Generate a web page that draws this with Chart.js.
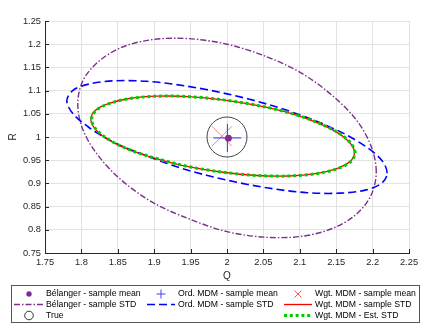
<!DOCTYPE html>
<html><head><meta charset="utf-8">
<script src="https://cdn.jsdelivr.net/npm/chart.js@4/dist/chart.umd.min.js"></script>
<style>html,body{margin:0;padding:0;background:#fff;overflow:hidden}</style>
</head><body>
<canvas id="c" width="439" height="329" style="display:block;width:439px;height:329px"></canvas>
<script>
// ---- data ----
const xTickVals = [1.75,1.8,1.85,1.9,1.95,2,2.05,2.1,2.15,2.2,2.25];
const xTickLabels = ['1.75','1.8','1.85','1.9','1.95','2','2.05','2.1','2.15','2.2','2.25'];
const yTickVals = [0.75,0.8,0.85,0.9,0.95,1,1.05,1.1,1.15,1.2,1.25];
const yTickLabels = ['0.75','0.8','0.85','0.9','0.95','1','1.05','1.1','1.15','1.2','1.25'];

const belangerMean = [2.002, 0.9975];
const ordMean = [2.0005, 0.998];
const wgtMean = [1.993, 1.0017];
const trueVal = [2.0, 1.0];

const belangerStdQ = [2.205,2.198,2.178,2.145,2.103,2.053,2.000,1.947,1.898,1.855,1.823,1.802,1.795,1.802,1.823,1.855,1.898,1.947,2.000,2.053,2.103,2.145,2.178,2.198];
const belangerStdR = [0.925,0.980,1.036,1.089,1.137,1.174,1.200,1.212,1.210,1.193,1.162,1.121,1.071,1.016,0.960,0.907,0.859,0.824,0.796,0.784,0.786,0.803,0.834,0.875];

const ordStdQ = [2.220,2.213,2.191,2.156,2.110,2.057,2.000,1.943,1.890,1.844,1.810,1.788,1.780,1.788,1.810,1.844,1.890,1.943,2.000,2.057,2.110,2.156,2.191,2.213];
const ordStdR = [0.922,0.949,0.979,1.011,1.042,1.070,1.093,1.110,1.120,1.121,1.114,1.100,1.078,1.051,1.021,0.989,0.959,0.930,0.907,0.890,0.880,0.879,0.886,0.901];

const wgtStdQ = [2.175,2.169,2.151,2.122,2.085,2.041,1.994,1.947,1.904,1.866,1.837,1.819,1.813,1.819,1.837,1.866,1.904,1.947,1.994,2.041,2.085,2.122,2.151,2.169];
const wgtStdR = [0.966,0.987,1.010,1.032,1.052,1.068,1.080,1.087,1.088,1.083,1.072,1.057,1.038,1.017,0.994,0.972,0.953,0.936,0.924,0.917,0.916,0.921,0.932,0.947];

const wgtEstQ = [2.176,2.170,2.152,2.123,2.086,2.042,1.995,1.948,1.905,1.867,1.838,1.820,1.814,1.820,1.838,1.867,1.905,1.948,1.995,2.042,2.086,2.123,2.152,2.170];
const wgtEstR = [0.966,0.987,1.010,1.032,1.052,1.068,1.080,1.087,1.088,1.083,1.072,1.057,1.038,1.017,0.994,0.972,0.953,0.936,0.924,0.917,0.916,0.921,0.932,0.947];

const legendLabels = ['Bélanger - sample mean','Bélanger - sample STD','True',
  'Ord. MDM - sample mean','Ord. MDM - sample STD',
  'Wgt. MDM - sample mean','Wgt. MDM - sample STD','Wgt. MDM - Est. STD'];

// ---- styles ----
const PURPLE = '#7E2F8E', BLUE = '#0000FF', RED = '#FF0000', GREEN = '#00CC00';
const FONT = "'Liberation Sans', Arial, Helvetica, sans-serif";
const TXT = '#262626';
const dashPurple = [6,2,1.5,2], dashBlue = [8,4], dashGreen = [3,2.8];

const pts = (qs, rs) => qs.map((q, i) => ({x: q, y: rs[i]}));
const pt = p => [{x: p[0], y: p[1]}];

const loopPlugin = {
  id: 'loopLines',
  beforeDatasetUpdate(chart, args) {
    const ds = chart.data.datasets[args.index];
    if (ds.closed && args.meta.dataset) {
      args.meta.dataset._loop = true;
      args.meta.dataset._fullLoop = true;
    }
  }
};

const decoPlugin = {
  id: 'deco',
  afterDraw(chart) {
    const ctx = chart.ctx, a = chart.chartArea, xs = chart.scales.x, ys = chart.scales.y;
    ctx.save();
    // inward ticks
    ctx.strokeStyle = TXT; ctx.lineWidth = 1; ctx.setLineDash([]);
    ctx.beginPath();
    xTickVals.forEach(v => { const p = Math.round(xs.getPixelForValue(v)) + 0.5; ctx.moveTo(p, a.bottom); ctx.lineTo(p, a.bottom - 4); });
    yTickVals.forEach(v => { const p = Math.round(ys.getPixelForValue(v)) + 0.5; ctx.moveTo(a.left, p); ctx.lineTo(a.left + 4, p); });
    ctx.stroke();

    // legend box
    ctx.strokeStyle = '#555'; ctx.lineWidth = 1;
    ctx.strokeRect(11.5, 285.5, 408, 37);
    const rows = [294, 304.5, 315.5];
    const cols = [{s0:14, s1:43, c:29, t:46}, {s0:147, s1:175, c:161, t:178}, {s0:284, s1:312, c:298, t:315}];
    const line = (col, row, color, w, dash) => {
      ctx.beginPath(); ctx.strokeStyle = color; ctx.lineWidth = w; ctx.setLineDash(dash);
      ctx.moveTo(col.s0, row); ctx.lineTo(col.s1, row); ctx.stroke(); ctx.setLineDash([]);
    };
    // markers
    ctx.fillStyle = PURPLE; ctx.beginPath(); ctx.arc(cols[0].c, rows[0], 2.7, 0, Math.PI*2); ctx.fill();
    ctx.strokeStyle = '#333'; ctx.lineWidth = 1; ctx.beginPath(); ctx.arc(cols[0].c, rows[2], 4.3, 0, Math.PI*2); ctx.stroke();
    ctx.strokeStyle = '#4040ff'; ctx.beginPath();
    ctx.moveTo(cols[1].c - 4.5, rows[0]); ctx.lineTo(cols[1].c + 4.5, rows[0]);
    ctx.moveTo(cols[1].c, rows[0] - 4.5); ctx.lineTo(cols[1].c, rows[0] + 4.5); ctx.stroke();
    ctx.strokeStyle = '#ff5050'; ctx.beginPath();
    ctx.moveTo(cols[2].c - 3.5, rows[0] - 3.5); ctx.lineTo(cols[2].c + 3.5, rows[0] + 3.5);
    ctx.moveTo(cols[2].c - 3.5, rows[0] + 3.5); ctx.lineTo(cols[2].c + 3.5, rows[0] - 3.5); ctx.stroke();
    line(cols[0], rows[1], PURPLE, 1.4, dashPurple);
    line(cols[1], rows[1], BLUE, 1.6, dashBlue);
    line(cols[2], rows[1], RED, 1.3, []);
    line(cols[2], rows[2], GREEN, 3, dashGreen);
    // texts
    ctx.fillStyle = '#000'; ctx.font = '8.7px ' + FONT; ctx.textBaseline = 'middle'; ctx.textAlign = 'left';
    const place = [[0,0],[0,1],[0,2],[1,0],[1,1],[2,0],[2,1],[2,2]];
    legendLabels.forEach((t, i) => { const [c, r] = place[i]; ctx.fillText(t, cols[c].t, rows[r]); });
    ctx.restore();
  }
};

new Chart(document.getElementById('c'), {
  type: 'line',
  data: {
    datasets: [
      {label: legendLabels[0], data: pt(belangerMean), showLine: false, pointStyle: 'circle', pointRadius: 3.4, backgroundColor: PURPLE, borderColor: PURPLE, pointBorderWidth: 0},
      {label: legendLabels[3], data: pt(ordMean), showLine: false, pointStyle: 'cross', pointRadius: 14, borderColor: '#3030ff', backgroundColor: 'transparent', pointBorderWidth: 1},
      {label: legendLabels[5], data: pt(wgtMean), showLine: false, pointStyle: 'crossRot', pointRadius: 14, borderColor: 'rgba(255,0,0,0.5)', backgroundColor: 'transparent', pointBorderWidth: 1},
      {label: legendLabels[2], data: pt(trueVal), showLine: false, pointStyle: 'circle', pointRadius: 20, borderColor: '#444', backgroundColor: 'transparent', pointBorderWidth: 1},
      {label: legendLabels[7], closed: true, data: pts(wgtEstQ, wgtEstR), borderColor: GREEN, borderWidth: 3, borderDash: dashGreen, pointRadius: 0, tension: 0.33, fill: false},
      {label: legendLabels[6], closed: true, data: pts(wgtStdQ, wgtStdR), borderColor: RED, borderWidth: 1.3, pointRadius: 0, tension: 0.33, fill: false},
      {label: legendLabels[4], closed: true, data: pts(ordStdQ, ordStdR), borderColor: BLUE, borderWidth: 1.6, borderDash: dashBlue, pointRadius: 0, tension: 0.33, fill: false},
      {label: legendLabels[1], closed: true, data: pts(belangerStdQ, belangerStdR), borderColor: PURPLE, borderWidth: 1.4, borderDash: dashPurple, pointRadius: 0, tension: 0.33, fill: false}
    ]
  },
  options: {
    responsive: false, animation: false, devicePixelRatio: 1,
    layout: {padding: {left: 0, right: 30, top: 10, bottom: 46}},
    plugins: {legend: {display: false}, tooltip: {enabled: false}},
    scales: {
      x: {
        type: 'linear', min: 1.75, max: 2.25,
        afterFit: s => { s.height = 30; },
        afterBuildTicks: s => { s.ticks = xTickVals.map(v => ({value: v})); },
        ticks: {autoSkip: false, maxRotation: 0, padding: 4, color: TXT, font: {family: FONT, size: 9.3}, callback: (v, i) => xTickLabels[i]},
        grid: {color: '#e2e2e2', drawTicks: false},
        border: {color: TXT, width: 1},
        title: {display: true, text: 'Q', color: TXT, font: {family: FONT, size: 10}, padding: {top: 0, bottom: 1}}
      },
      y: {
        type: 'linear', min: 0.75, max: 1.25,
        afterFit: s => { s.width = 45; },
        afterBuildTicks: s => { s.ticks = yTickVals.map(v => ({value: v})); },
        ticks: {autoSkip: false, padding: 4, color: TXT, font: {family: FONT, size: 9.3}, callback: (v, i) => yTickLabels[i]},
        grid: {color: '#e2e2e2', drawTicks: false},
        border: {color: TXT, width: 1},
        title: {display: true, text: 'R', color: TXT, font: {family: FONT, size: 10}, padding: {top: 7, bottom: 0}}
      }
    }
  },
  plugins: [loopPlugin, decoPlugin]
});
</script>
</body></html>
